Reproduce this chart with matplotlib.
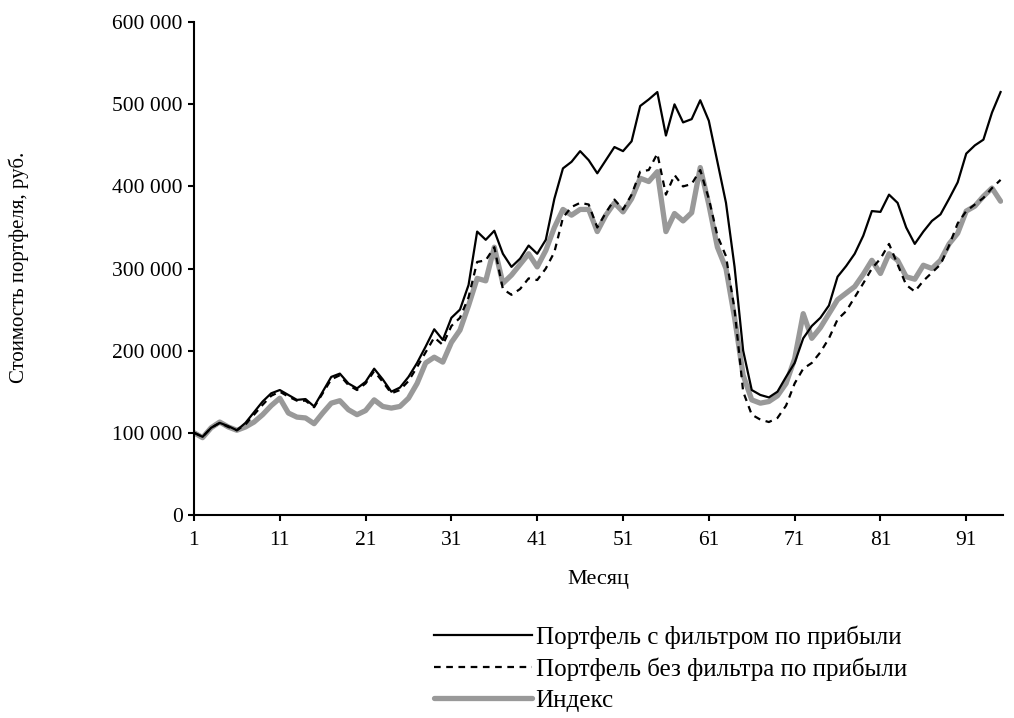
import matplotlib
matplotlib.use('Agg')
import matplotlib.pyplot as plt
from matplotlib.ticker import FuncFormatter

plt.rcParams['font.family'] = ['Liberation Serif', 'DejaVu Serif']

months = list(range(1, 96))

# Портфель с фильтром по прибыли (тыс. руб.)
with_filter = [100, 95, 106, 112, 108, 103, 112, 125, 138, 148,
               152, 146, 140, 141, 132, 150, 168, 172, 160, 154,
               162, 178, 165, 150, 155, 168, 185, 205, 226, 213,
               240, 250, 280, 345, 335, 346, 318, 302, 312, 328,
               318, 335, 385, 422, 430, 443, 432, 416, 432,
               448, 443, 455, 498, 506, 515, 462, 500, 478, 482,
               505, 480, 430, 380, 302, 200, 152, 146, 143, 150,
               168, 185, 215, 230, 240, 255, 290, 303, 318, 340,
               370, 369, 390, 380, 350, 330, 345, 358, 366, 385,
               405, 440, 450, 457, 490, 515]

# Портфель без фильтра по прибыли
no_filter = [100, 95, 106, 112, 107, 103, 110, 122, 134, 145,
             150, 144, 139, 139, 131, 148, 165, 170, 158, 152,
             160, 175, 162, 148, 152, 163, 180, 198, 216, 207,
             230, 240, 265, 308, 310, 326, 275, 268, 275, 288,
             286, 300, 320, 362, 375, 380, 378, 350, 368,
             384, 372, 390, 418, 420, 440, 390, 414, 400, 403,
             420, 385, 340, 315, 250, 150, 122, 116, 113, 118,
             133, 160, 178, 185, 198, 215, 238, 248, 265, 282,
             300, 312, 330, 305, 280, 272, 285, 295, 305, 328,
             355, 370, 378, 386, 398, 408]

# Индекс
index = [100, 94, 106, 113, 107, 103, 107, 113, 122, 133,
         142, 124, 119, 118, 111, 124, 136, 139, 128, 122,
         127, 140, 132, 130, 132, 142, 160, 185, 192, 186,
         210, 225, 255, 288, 285, 326, 282, 292, 305, 318,
         302, 322, 350, 372, 365, 372, 372, 345, 365,
         380, 369, 385, 410, 406, 418, 345, 367, 358, 368,
         423, 378, 326, 300, 240, 170, 140, 136, 138, 145,
         160, 190, 245, 215, 228, 245, 262, 270, 278, 293,
         310, 294, 318, 310, 290, 287, 304, 300, 310, 330,
         343, 370, 376, 388, 398, 382]

with_filter = [v * 1000 for v in with_filter]
no_filter = [v * 1000 for v in no_filter]
index = [v * 1000 for v in index]

fig = plt.figure(figsize=(10.14, 7.18), dpi=100)
ax = fig.add_axes([0.1913, 0.283, 0.798, 0.686])

ax.plot(months, with_filter, color='black', lw=1.6, label='Портфель с фильтром по прибыли',
        solid_joinstyle='round', zorder=3)
ax.plot(months, no_filter, color='black', lw=1.6, ls=(0, (3, 2.5)),
        label='Портфель без фильтра по прибыли', zorder=2)
ax.plot(months, index, color='#999999', lw=3.8, label='Индекс',
        solid_joinstyle='round', solid_capstyle='round', zorder=1)

ax.set_xlim(1, 95.3)
ax.set_ylim(0, 600000)
ax.set_xticks(range(1, 96, 10))
ax.set_yticks(range(0, 600001, 100000))
ax.yaxis.set_major_formatter(FuncFormatter(lambda v, p: '0' if v == 0 else f'{int(v):,}'.replace(',', ' ')))

ax.spines['top'].set_visible(False)
ax.spines['right'].set_visible(False)
ax.spines['left'].set_linewidth(1.5)
ax.spines['bottom'].set_linewidth(1.5)
ax.tick_params(axis='both', direction='out', length=4, width=1.5, labelsize=15.5, pad=4)
ax.tick_params(axis='x', pad=8)

ax.set_xlabel('Месяц', fontsize=16, labelpad=14)
fig.text(0.018, 0.627, 'Стоимость портфеля, руб.', rotation=90, fontsize=15,
         ha='center', va='center')

leg = ax.legend(loc='upper left', bbox_to_anchor=(0.416, 0.146), bbox_transform=fig.transFigure,
                frameon=False, fontsize=18, handlelength=3.9, handletextpad=0.15,
                labelspacing=0.33, borderpad=0)

fig.savefig('out.png', dpi=100)
